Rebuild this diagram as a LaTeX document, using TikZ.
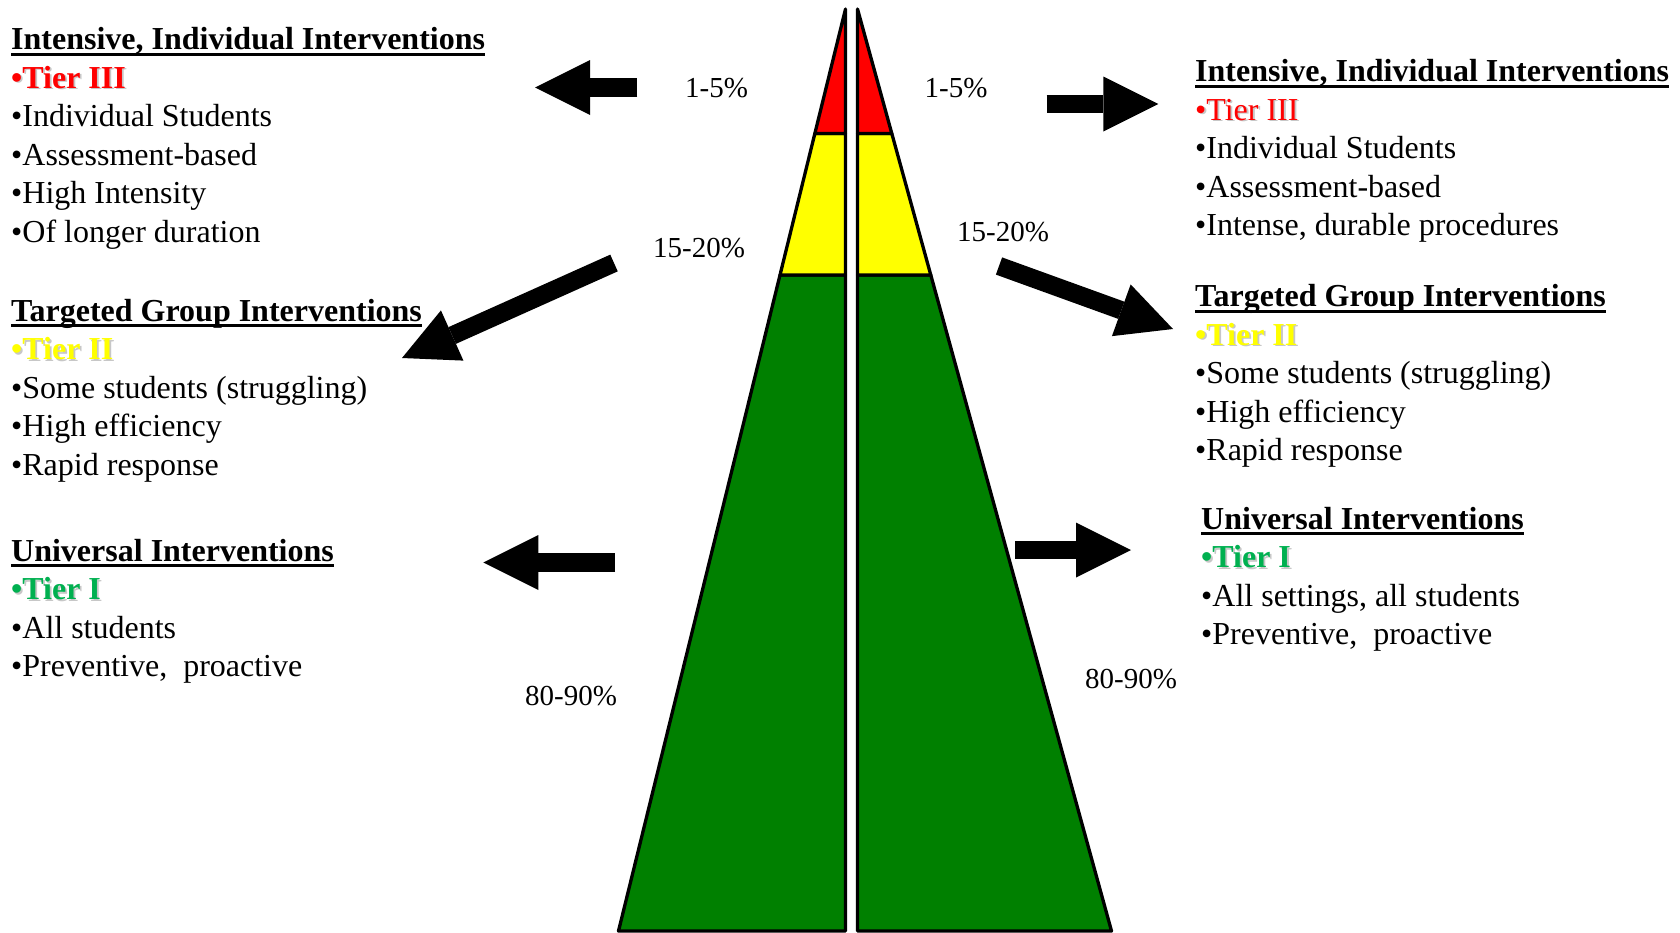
\documentclass[tikz,border=0pt]{standalone}
\usepackage{fontspec}
\setmainfont{Liberation Serif}
\usetikzlibrary{arrows.meta,calc}
\definecolor{pgreen}{HTML}{008000}
\definecolor{tgreen}{HTML}{00B050}
\definecolor{tred}{HTML}{FF0000}
\definecolor{tyellow}{HTML}{FFFF00}
\newcommand\hdr[1]{\sbox0{\bfseries #1}\rlap{\rule[-6pt]{\wd0}{2.8pt}}\usebox0}
\newcommand\shd[2]{\rlap{\kern1.8pt\raisebox{-1.8pt}{\color{black!22}#2}}{\color{#1}#2}}
\tikzset{
  blk/.style={anchor=base west, inner sep=0pt, font=\fontsize{32}{38.57}\selectfont},
  pct/.style={anchor=base, inner sep=0pt, font=\fontsize{29}{34}\selectfont},
  bigarrow/.style={line width=18.3pt, -{Triangle[length=55pt,width=55pt,line width=0pt]}},
  tierpart/.style={line width=3.3pt, draw=black, line join=round},
}
\begin{document}
\begin{tikzpicture}[x=1pt,y=-1pt]
\useasboundingbox (0,0) rectangle (1680,932);
% pyramid geometry
\coordinate (LA) at (845.5,9);
\coordinate (LB) at (618.5,931);
\coordinate (RA) at (857.5,9);
\coordinate (RB) at (1111.5,931);
\coordinate (L1) at ($(LA)!0.135!(LB)$);
\coordinate (L2) at ($(LA)!0.2885!(LB)$);
\coordinate (R1) at ($(RA)!0.135!(RB)$);
\coordinate (R2) at ($(RA)!0.2885!(RB)$);
% left half
\filldraw[tierpart, fill=pgreen] (L2) -- (LB) -- (LB -| LA) -- (L2 -| LA) -- cycle;
\filldraw[tierpart, fill=tyellow] (L1) -- (L2) -- (L2 -| LA) -- (L1 -| LA) -- cycle;
\filldraw[tierpart, fill=tred] (LA) -- (L1) -- (L1 -| LA) -- cycle;
% right half
\filldraw[tierpart, fill=pgreen] (R2) -- (RB) -- (RB -| RA) -- (R2 -| RA) -- cycle;
\filldraw[tierpart, fill=tyellow] (R1) -- (R2) -- (R2 -| RA) -- (R1 -| RA) -- cycle;
\filldraw[tierpart, fill=tred] (RA) -- (R1) -- (R1 -| RA) -- cycle;

% percentages
\node[pct] (p1l) at (716.5,97) {1-5\%};
\node[pct] (p1r) at (956,97) {1-5\%};
\node[pct] (p2l) at (699,257) {15-20\%};
\node[pct] (p2r) at (1003,241) {15-20\%};
\node[pct] (p3l) at (571,705) {80-90\%};
\node[pct] (p3r) at (1131,688) {80-90\%};

% text blocks
\node[blk] (l1) at (11,49.5) {\begin{tabular}[t]{@{}l@{}}
\hdr{Intensive, Individual Interventions}\\
\shd{tred}{\bfseries •Tier III}\\
•Individual Students\\
•Assessment-based\\
•High Intensity\\
•Of longer duration
\end{tabular}};
\node[blk] (l2) at (11,321) {\begin{tabular}[t]{@{}l@{}}
\hdr{Targeted Group Interventions}\\
\shd{tyellow}{\bfseries •Tier II}\\
•Some students (struggling)\\
•High efficiency\\
•Rapid response
\end{tabular}};
\node[blk] (l3) at (11,561) {\begin{tabular}[t]{@{}l@{}}
\hdr{Universal Interventions}\\
\shd{tgreen}{\bfseries •Tier I}\\
•All students\\
•Preventive,~~proactive
\end{tabular}};
\node[blk] (r1) at (1195,81.5) {\begin{tabular}[t]{@{}l@{}}
\hdr{Intensive, Individual Interventions}\\
\shd{tred}{•Tier III}\\
•Individual Students\\
•Assessment-based\\
•Intense, durable procedures
\end{tabular}};
\node[blk] (r2) at (1195,306.5) {\begin{tabular}[t]{@{}l@{}}
\hdr{Targeted Group Interventions}\\
\shd{tyellow}{\bfseries •Tier II}\\
•Some students (struggling)\\
•High efficiency\\
•Rapid response
\end{tabular}};
\node[blk] (r3) at (1201,529) {\begin{tabular}[t]{@{}l@{}}
\hdr{Universal Interventions}\\
\shd{tgreen}{\bfseries •Tier I}\\
•All settings, all students\\
•Preventive,~~proactive
\end{tabular}};

% arrows
\coordinate (a1s) at (637.3,87.5); \coordinate (a1e) at (535,87.5);
\coordinate (a2s) at (1046.7,104); \coordinate (a2e) at (1158.3,104);
\coordinate (a3s) at (614,263);   \coordinate (a3e) at (402,358);
\coordinate (a4s) at (999,266);   \coordinate (a4e) at (1173,329);
\coordinate (a5s) at (615,562.5); \coordinate (a5e) at (483.3,562.5);
\coordinate (a6s) at (1015,550);  \coordinate (a6e) at (1131,550);
\draw[bigarrow] (a1s) -- (a1e);
\draw[bigarrow] (a2s) -- (a2e);
\draw[bigarrow] (a3s) -- (a3e);
\draw[bigarrow] (a4s) -- (a4e);
\draw[bigarrow] (a5s) -- (a5e);
\draw[bigarrow] (a6s) -- (a6e);
\end{tikzpicture}
\end{document}
